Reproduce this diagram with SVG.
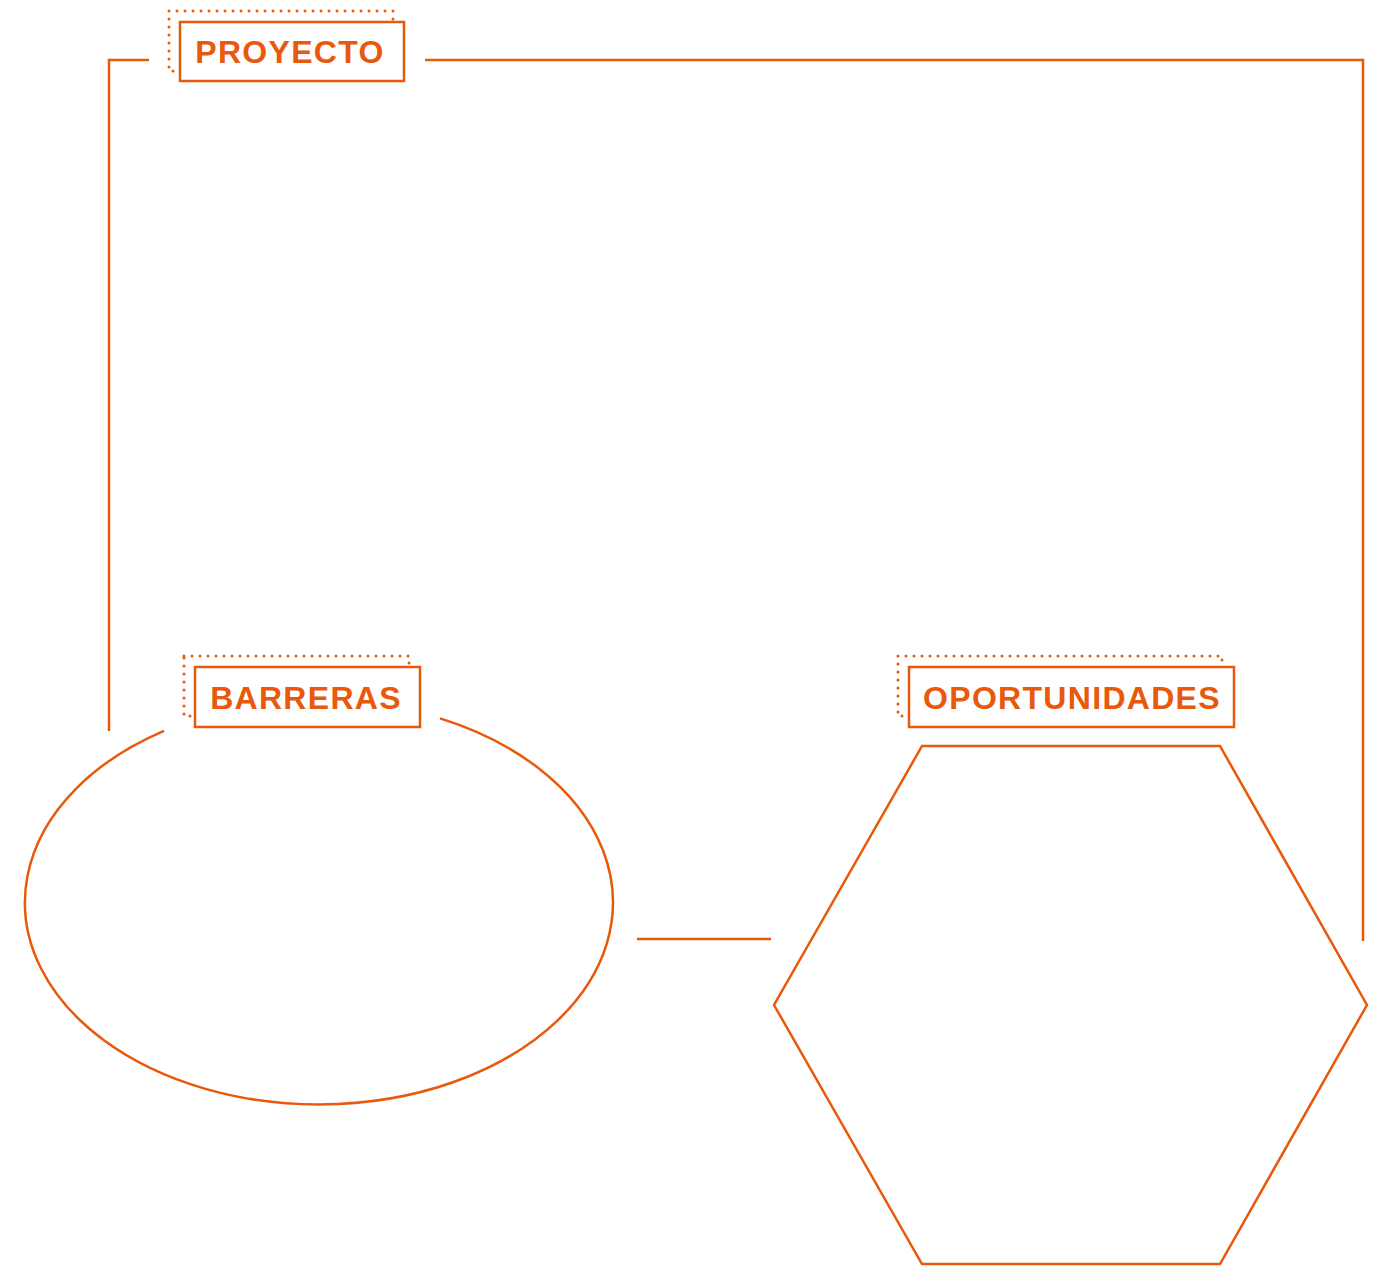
<svg xmlns="http://www.w3.org/2000/svg" width="1385" height="1266" viewBox="0 0 1385 1266">
<style>
.ln{fill:none;stroke:#E8590C;stroke-width:2.5}
.dot{fill:none;stroke:#E8590C;stroke-width:3;stroke-dasharray:0 8;stroke-linecap:round}
.box{fill:#fff;stroke:#E8590C;stroke-width:2.5}
.lbl{font-family:"Liberation Sans",Arial,sans-serif;font-weight:bold;font-size:32px;letter-spacing:1.3px;fill:#E8590C;text-anchor:middle}
</style>
<rect width="1385" height="1266" fill="#fff"/>
<g id="connectors">
<polyline class="ln" points="149,60 109,60 109,731"/>
<polyline class="ln" points="425,60 1363,60 1363,941"/>
<line class="ln" x1="637" y1="939" x2="771" y2="939"/>
</g>
<g id="proyecto">
<rect class="dot" x="169" y="11" width="224" height="60"/>
<rect class="box" x="180" y="22" width="224" height="59"/>
<text class="lbl" x="290" y="63">PROYECTO</text>
</g>
<g id="barreras-shape">
<path class="ln" d="M 440 718.4 A 294 202 0 1 1 164 730.8"/>
</g>
<g id="barreras">
<rect class="dot" x="184" y="656" width="225" height="60"/>
<rect class="box" x="195" y="667" width="225" height="60"/>
<text class="lbl" x="306" y="709">BARRERAS</text>
</g>
<g id="oportunidades-shape">
<polygon class="ln" points="922,746 1220,746 1367,1005 1220,1264 922,1264 774,1005"/>
</g>
<g id="oportunidades">
<rect class="dot" x="898" y="656" width="324" height="60"/>
<rect class="box" x="909" y="667" width="325" height="60"/>
<text class="lbl" x="1072" y="709">OPORTUNIDADES</text>
</g>
</svg>
